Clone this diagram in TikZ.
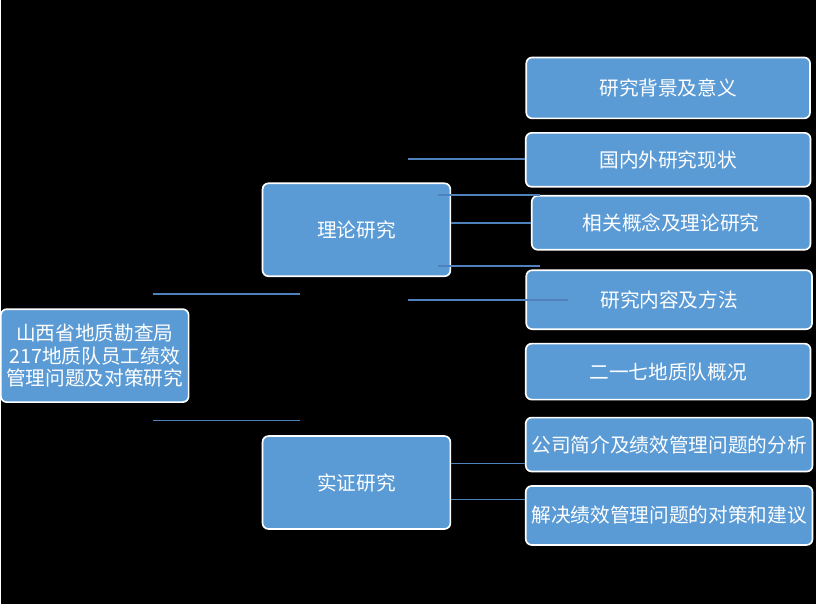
\documentclass[tikz,border=0pt]{standalone}
\usepackage{fontspec}
\setmainfont{Noto Sans CJK SC}
\usetikzlibrary{positioning}
\begin{document}
\begin{tikzpicture}[x=0.03cm, y=-0.03cm, every node/.style = {shape=rectangle, rounded corners=5pt, draw=white, line width=0.5mm, text=white, align=center, font=\fontsize{16.8}{19.5}\selectfont, inner sep=2pt}]
	\tikzset{box/.style = {fill={rgb,255:red,91;green,155;blue,213}}}
	\tikzset{link/.style = {draw={rgb,255:red,79;green,129;blue,189}, line width=0.5mm}}
	\fill[black] (0,0) rectangle (816,605);
	\node[box, minimum width=188*0.03cm, minimum height=93*0.03cm] (root) at (94,356) {山西省地质勘查局\\217地质队员工绩效\\管理问题及对策研究};
	\node[box, minimum width=188*0.03cm, minimum height=93*0.03cm] (theory) at (356,230) {理论研究};
	\node[box, minimum width=188*0.03cm, minimum height=93*0.03cm] (practice) at (356,483) {实证研究};
	\node[box, minimum width=284*0.03cm, minimum height=61*0.03cm] (bg) at (668,88) {研究背景及意义};
	\node[box, minimum width=285*0.03cm, minimum height=54*0.03cm] (status) at (668,160) {国内外研究现状};
	\node[box, minimum width=279*0.03cm, minimum height=54*0.03cm] (concept) at (671,223) {相关概念及理论研究};
	\node[box, minimum width=286*0.03cm, minimum height=59*0.03cm] (method) at (669,300) {研究内容及方法};
	\node[box, minimum width=285*0.03cm, minimum height=56*0.03cm] (survey) at (668,372) {二一七地质队概况};
	\node[box, minimum width=287*0.03cm, minimum height=54*0.03cm] (intro) at (669,445) {公司简介及绩效管理问题的分析};
	\node[box, minimum width=287*0.03cm, minimum height=59*0.03cm] (solve) at (669,516) {解决绩效管理问题的对策和建议};
	% connectors
	\coordinate (a1) at (408,159);
	\coordinate (a2) at (438,195);
	\coordinate (a3) at (540,195);
	\coordinate (a4) at (438,266);
	\coordinate (a5) at (540,266);
	\coordinate (a6) at (408,300);
	\coordinate (a7) at (568,300);
	\coordinate (r1) at (152,294);
	\coordinate (r2) at (299,294);
	\coordinate (r3) at (152,421);
	\coordinate (r4) at (299,421);
	\draw[link] (a1) -- (status.west |- a1);
	\draw[link] (a2) -- (a3);
	\draw[link] (theory.east |- concept) -- (concept.west);
	\draw[link] (a4) -- (a5);
	\draw[link] (a6) -- (a7);
	\draw[link] (r1) -- (r2);
	\draw[link] (r3) -- (r4);
	\draw[link] (practice.east |- 0,464) -- (intro.west |- 0,464);
	\draw[link] (practice.east |- 0,500) -- (solve.west |- 0,500);
\end{tikzpicture}
\end{document}
